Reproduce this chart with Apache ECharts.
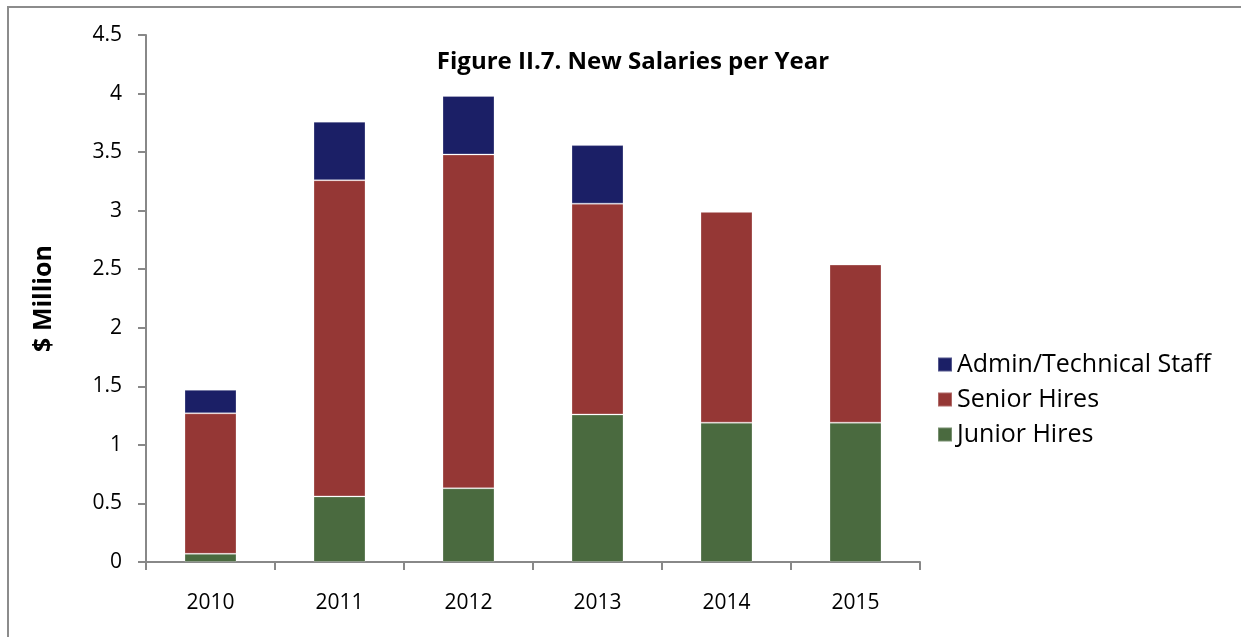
<!DOCTYPE html>
<html>
<head>
<meta charset="utf-8">
<script src="https://cdn.jsdelivr.net/npm/echarts@6/dist/echarts.min.js"></script>
<style>
  html, body { margin: 0; padding: 0; background: #fff; }
  #chart { width: 1241px; height: 637px; }
</style>
</head>
<body>
<div id="chart"></div>
<script>
// 数据
const years = ['2010', '2011', '2012', '2013', '2014', '2015'];
const juniorHires = [0.07, 0.56, 0.63, 1.26, 1.19, 1.19];
const seniorHires = [1.20, 2.70, 2.85, 1.80, 1.80, 1.35];
const adminStaff = [0.20, 0.50, 0.50, 0.50, 0, 0];
const yTicks = { min: 0, max: 4.5, interval: 0.5 };

const fontFamily = 'Open Sans, Noto Sans, sans-serif';
const colors = { junior: '#4a6a3f', senior: '#953735', admin: '#1b1f66' };

const chart = echarts.init(document.getElementById('chart'));

const barStyle = color => ({
    color: color,
    borderColor: 'rgba(255,255,255,0.25)',
    borderWidth: 1
});

chart.setOption({
    animation: false,
    title: {
        text: 'Figure II.7. New Salaries per Year',
        left: 628,
        top: 45,
        textAlign: 'center',
        textStyle: { fontFamily, fontSize: 24, fontWeight: 'bold', color: '#000' }
    },
    graphic: [{
        type: 'rect',
        shape: { x: 8, y: 7, width: 1300, height: 700 },
        style: { fill: 'none', stroke: '#8c8c8c', lineWidth: 2 },
        silent: true
    }],
    legend: {
        orient: 'vertical',
        left: 932,
        top: 347,
        icon: 'rect',
        itemWidth: 14,
        itemHeight: 14,
        itemGap: 10,
        data: ['Admin/Technical Staff', 'Senior Hires', 'Junior Hires'],
        textStyle: { fontFamily, fontSize: 25, color: '#000' }
    },
    grid: { left: 146, right: 321, top: 35, bottom: 75 },
    xAxis: {
        type: 'category',
        data: years,
        axisLine: { lineStyle: { color: '#888', width: 2 } },
        axisTick: { show: true, length: 8, lineStyle: { color: '#888', width: 2 } },
        axisLabel: { fontFamily, fontSize: 21, color: '#000', margin: 31 }
    },
    yAxis: {
        type: 'value',
        min: yTicks.min,
        max: yTicks.max,
        interval: yTicks.interval,
        name: '$ Million',
        nameLocation: 'middle',
        nameGap: 90,
        nameTextStyle: { fontFamily, fontSize: 25, fontWeight: 'bold', color: '#000' },
        axisLine: { show: true, lineStyle: { color: '#888', width: 2 } },
        axisTick: { show: true, length: 8, lineStyle: { color: '#888', width: 2 } },
        splitLine: { show: false },
        axisLabel: { fontFamily, fontSize: 21, color: '#000', margin: 24 }
    },
    series: [
        {
            name: 'Junior Hires', type: 'bar', stack: 'total',
            barWidth: 52, data: juniorHires, itemStyle: barStyle(colors.junior)
        },
        {
            name: 'Senior Hires', type: 'bar', stack: 'total',
            barWidth: 52, data: seniorHires, itemStyle: barStyle(colors.senior)
        },
        {
            name: 'Admin/Technical Staff', type: 'bar', stack: 'total',
            barWidth: 52, data: adminStaff, itemStyle: barStyle(colors.admin)
        }
    ]
});
</script>
</body>
</html>
